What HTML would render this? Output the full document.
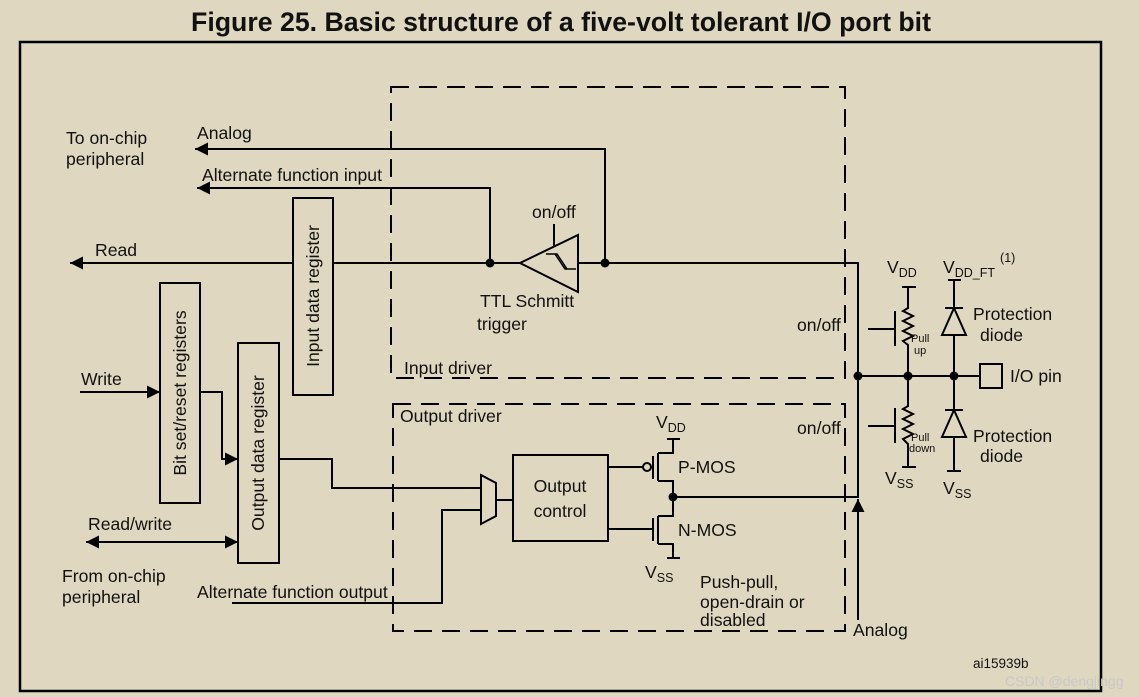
<!DOCTYPE html>
<html><head><meta charset="utf-8"><style>
html,body{margin:0;padding:0;background:#dfd7c0;}
svg{display:block;font-family:"Liberation Sans",Arial,sans-serif;}
text{font-size:17.6px;fill:#111;}
.s{font-size:12.5px;}
</style></head><body>
<svg width="1139" height="697" viewBox="0 0 1139 697" xmlns="http://www.w3.org/2000/svg">
<defs>
<marker id="a" viewBox="0 0 10 10" refX="10" refY="5" markerWidth="13" markerHeight="13" markerUnits="userSpaceOnUse" orient="auto-start-reverse"><path d="M0,0L10,5L0,10z" fill="#000"/></marker>
</defs>
<rect width="1139" height="697" fill="#dfd7c0"/>
<text x="561" y="31" text-anchor="middle" style="font-size:26.7px;font-weight:bold">Figure 25. Basic structure of a five-volt tolerant I/O port bit</text>
<rect x="20" y="42" width="1081" height="649" fill="none" stroke="#000" stroke-width="2.5"/>
<g fill="none" stroke="#000" stroke-width="2">
<rect x="391" y="87" width="454" height="291" stroke-dasharray="18,10"/>
<rect x="393" y="404" width="452" height="227" stroke-dasharray="18,10"/>
<polyline points="605,263 605,149 195,149" marker-end="url(#a)"/>
<polyline points="490,263 490,188 197,188" marker-end="url(#a)"/>
<line x1="520" y1="263" x2="70" y2="263" marker-end="url(#a)"/>
<polyline points="578,263 858,263 858,497 673,497"/>
<polygon points="520,263 578,235 578,292" fill="#dfd7c0"/>
<polygon points="546,254 555,254 565,269 576,269 567,269 557,254" stroke-width="1.5"/>
<line x1="554" y1="224" x2="554" y2="247"/>
<rect x="293" y="198" width="40" height="197" fill="#dfd7c0"/>
<rect x="160" y="283" width="40" height="220"/>
<rect x="238" y="343" width="41" height="220"/>
<line x1="80" y1="392" x2="160" y2="392" marker-end="url(#a)"/>
<polyline points="200,392 222,392 222,459 238,459" marker-end="url(#a)"/>
<line x1="86" y1="542" x2="238" y2="542" marker-start="url(#a)" marker-end="url(#a)"/>
<polyline points="279,459 332,459 332,488 481,488"/>
<polyline points="232,603 442,603 442,510 481,510"/>
<polygon points="481,475 496,483 496,516 481,524"/>
<line x1="496" y1="500" x2="513" y2="500"/>
<rect x="513" y="455" width="95" height="86"/>
<line x1="608" y1="467" x2="643" y2="467"/>
<circle cx="647" cy="467" r="4"/>
<line x1="653" y1="456" x2="653" y2="479"/>
<line x1="658" y1="453" x2="658" y2="481"/>
<polyline points="658,453 673,453 673,439"/>
<line x1="667" y1="439" x2="680" y2="439"/>
<polyline points="658,481 673,481 673,516 658,516"/>
<line x1="608" y1="529" x2="653" y2="529"/>
<line x1="653" y1="518" x2="653" y2="541"/>
<line x1="658" y1="516" x2="658" y2="544"/>
<polyline points="658,544 673,544 673,558"/>
<line x1="667" y1="558" x2="680" y2="558"/>
<line x1="858" y1="620" x2="858" y2="499" marker-end="url(#a)"/>
<line x1="858" y1="376" x2="980" y2="376"/>
<rect x="980" y="364" width="22" height="24"/>
<line x1="902" y1="287" x2="916" y2="287"/>
<polyline points="908,287 908,308 903,311 913,316 903,321 913,326 903,331 913,336 903,341 908,345 908,376"/>
<line x1="868" y1="329" x2="895" y2="329"/>
<line x1="895" y1="311" x2="895" y2="346"/>
<polyline points="908,376 908,406 903,409 913,414 903,419 913,424 903,429 913,434 903,439 908,444 908,467"/>
<line x1="902" y1="467" x2="916" y2="467"/>
<line x1="868" y1="426" x2="895" y2="426"/>
<line x1="895" y1="408" x2="895" y2="443"/>
<line x1="948" y1="280" x2="961" y2="280"/>
<line x1="954" y1="280" x2="954" y2="471"/>
<line x1="945" y1="308" x2="963" y2="308"/>
<polygon points="954,308 942,335 966,335" fill="#dfd7c0"/>
<line x1="945" y1="410" x2="963" y2="410"/>
<polygon points="954,410 942,437 966,437" fill="#dfd7c0"/>
<line x1="947" y1="471" x2="961" y2="471"/>
</g>
<g fill="#000">
<circle cx="490" cy="263" r="4.5"/><circle cx="605" cy="263" r="4.5"/>
<circle cx="858" cy="376" r="4.5"/><circle cx="908" cy="376" r="4.5"/><circle cx="954" cy="376" r="4.5"/>
<circle cx="673" cy="497" r="4.5"/>
</g>
<text x="66" y="144">To on-chip</text>
<text x="66" y="165">peripheral</text>
<text x="197" y="139">Analog</text>
<text x="202" y="181">Alternate function input</text>
<text x="95" y="256">Read</text>
<text x="532" y="218">on/off</text>
<text x="480" y="307">TTL Schmitt</text>
<text x="477" y="330">trigger</text>
<text x="404" y="374">Input driver</text>
<text x="400" y="422">Output driver</text>
<text transform="translate(319,296) rotate(-90)" text-anchor="middle">Input data register</text>
<text transform="translate(186,393) rotate(-90)" text-anchor="middle">Bit set/reset registers</text>
<text transform="translate(264,453) rotate(-90)" text-anchor="middle">Output data register</text>
<text x="81" y="385">Write</text>
<text x="88" y="530">Read/write</text>
<text x="62" y="582">From on-chip</text>
<text x="62" y="603">peripheral</text>
<text x="197" y="598">Alternate function output</text>
<text x="560" y="492" text-anchor="middle">Output</text>
<text x="560" y="517" text-anchor="middle">control</text>
<text x="656" y="428">V<tspan class="s" dy="4">DD</tspan></text>
<text x="678" y="473">P-MOS</text>
<text x="678" y="536">N-MOS</text>
<text x="645" y="578">V<tspan class="s" dy="4">SS</tspan></text>
<text x="700" y="588">Push-pull,</text>
<text x="700" y="608">open-drain or</text>
<text x="700" y="626">disabled</text>
<text x="853" y="636">Analog</text>
<text x="797" y="331">on/off</text>
<text x="797" y="434">on/off</text>
<text x="887" y="273">V<tspan class="s" dy="4">DD</tspan></text>
<text x="943" y="273">V<tspan class="s" dy="4">DD_FT</tspan><tspan class="s" dy="-15" dx="5">(1)</tspan></text>
<text x="911" y="342" style="font-size:11px">Pull</text>
<text x="914" y="354" style="font-size:11px">up</text>
<text x="911" y="441" style="font-size:11px">Pull</text>
<text x="909" y="452" style="font-size:11px">down</text>
<text x="973" y="320">Protection</text>
<text x="980" y="341">diode</text>
<text x="973" y="442">Protection</text>
<text x="980" y="462">diode</text>
<text x="1010" y="382">I/O pin</text>
<text x="885" y="484">V<tspan class="s" dy="4">SS</tspan></text>
<text x="943" y="494">V<tspan class="s" dy="4">SS</tspan></text>
<text x="973" y="668" style="font-size:13.5px">ai15939b</text>
<text x="1005" y="686" style="font-size:14px;fill:#c8c8c8">CSDN @dengjingg</text>
</svg>
</body></html>
